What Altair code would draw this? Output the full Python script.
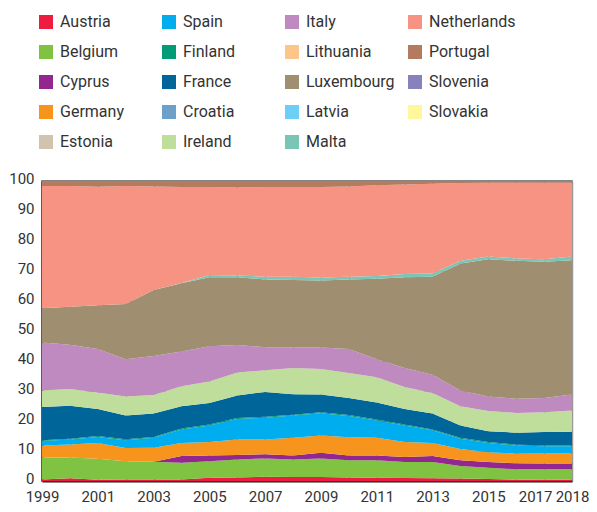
import altair as alt
import pandas as pd

years = list(range(1999, 2019))

# stacking order (bottom to top) -- also the legend order (column by column)
countries = ["Austria", "Belgium", "Cyprus", "Germany", "Estonia", "Spain", "Finland",
             "France", "Croatia", "Ireland", "Italy", "Lithuania", "Luxembourg", "Latvia",
             "Malta", "Netherlands", "Portugal", "Slovenia", "Slovakia"]

austria = [0.5, 0.9, 0.4, 0.5, 0.5, 0.5, 1.1, 1.2, 1.4, 1.3, 1.3, 1.2, 1.1, 1.0, 0.9, 0.8, 0.7, 0.4, 0.4, 0.4]
belgium = [7.3, 6.9, 7.0, 6.1, 5.9, 5.6, 5.5, 6.0, 6.1, 5.9, 6.2, 5.7, 5.8, 5.3, 5.4, 4.2, 3.7, 3.5, 3.5, 3.5]
cyprus = [0, 0, 0, 0, 0, 2.2, 1.9, 1.5, 1.4, 1.3, 1.9, 1.6, 1.6, 1.7, 2.0, 1.9, 1.9, 2.0, 1.9, 1.9]
germany = [4.0, 4.4, 5.3, 4.4, 4.7, 4.4, 4.5, 5.1, 4.9, 5.9, 5.8, 6.1, 5.9, 5.0, 4.4, 3.8, 3.3, 3.2, 3.4, 3.4]
estonia = [0, 0, 0, 0, 0, 0, 0, 0, 0, 0, 0, 0, 0, 0, 0, 0, 0, 0, 0, 0]
spain = [1.5, 1.6, 2.0, 2.6, 3.3, 4.5, 5.5, 6.9, 7.3, 7.4, 7.4, 7.1, 5.8, 5.5, 4.2, 3.4, 3.1, 2.7, 2.4, 2.4]
finland = [0.3, 0.3, 0.3, 0.3, 0.3, 0.3, 0.3, 0.3, 0.3, 0.3, 0.3, 0.3, 0.3, 0.3, 0.3, 0.3, 0.3, 0.3, 0.3, 0.3]
france = [11.1, 11.0, 9.0, 7.9, 7.8, 7.4, 7.2, 7.5, 8.3, 6.8, 5.9, 5.7, 5.7, 5.2, 5.3, 4.1, 3.6, 4.0, 4.4, 4.5]
croatia = [0, 0, 0, 0, 0, 0, 0, 0, 0, 0, 0, 0, 0, 0, 0, 0, 0, 0, 0, 0]
ireland = [5.5, 5.6, 5.5, 6.4, 6.2, 6.7, 7.2, 7.7, 7.2, 8.8, 8.5, 8.3, 8.4, 7.3, 6.8, 6.4, 6.7, 6.6, 6.6, 7.1]
italy = [16.0, 14.7, 14.5, 12.4, 13.0, 11.6, 11.7, 9.1, 7.7, 6.9, 7.2, 8.0, 6.0, 6.4, 6.1, 5.3, 4.9, 4.7, 4.8, 5.3]
lithuania = [0, 0, 0, 0, 0, 0, 0, 0, 0, 0, 0, 0, 0, 0, 0, 0, 0, 0, 0, 0]
luxembourg = [11.4, 12.7, 14.6, 18.4, 22.0, 22.7, 23.0, 22.6, 22.6, 22.4, 22.3, 23.2, 26.8, 30.2, 32.7, 42.3, 45.7, 46.0, 45.4, 44.8]
latvia = [0, 0, 0, 0, 0, 0, 0, 0, 0, 0, 0, 0, 0, 0, 0, 0, 0, 0, 0, 0]
malta = [0, 0, 0, 0, 0, 0.1, 0.8, 0.6, 0.9, 1.1, 1.0, 0.9, 0.9, 1.1, 1.1, 0.9, 0.9, 0.8, 0.8, 1.2]
netherlands = [40.7, 40.2, 39.5, 39.3, 34.5, 32.0, 29.3, 29.3, 29.9, 29.9, 30.2, 30.1, 30.3, 29.8, 29.9, 25.9, 24.6, 25.2, 25.5, 24.6]
portugal = [1.7, 1.7, 1.9, 1.7, 1.8, 2.0, 2.0, 2.2, 2.0, 2.0, 2.0, 1.8, 1.4, 1.2, 0.9, 0.7, 0.6, 0.6, 0.6, 0.6]
slovenia = [0, 0, 0, 0, 0, 0, 0, 0, 0, 0, 0, 0, 0, 0, 0, 0, 0, 0, 0, 0]
slovakia = [0, 0, 0, 0, 0, 0, 0, 0, 0, 0, 0, 0, 0, 0, 0, 0, 0, 0, 0, 0]

series = [austria, belgium, cyprus, germany, estonia, spain, finland, france, croatia,
          ireland, italy, lithuania, luxembourg, latvia, malta, netherlands, portugal,
          slovenia, slovakia]

colors = ["#ee1c3f", "#80c241", "#92278f", "#f7941d", "#d1c4ae", "#00aeef", "#009b77",
          "#00669a", "#6ca0c8", "#bfdd9b", "#be8abf", "#fcc68b", "#a08e70", "#6dcff6",
          "#7ac6b6", "#f69383", "#b57b5e", "#8781bd", "#fff79a"]

rows = []
for i, (c, vals) in enumerate(zip(countries, series)):
    for y, v in zip(years, vals):
        rows.append({"year": y, "country": c, "value": v, "order": i})
df = pd.DataFrame(rows)

FONT = "Roboto"

chart = alt.Chart(df).mark_area(interpolate="linear").encode(
    x=alt.X("year:Q",
            scale=alt.Scale(domain=[1999, 2018], nice=False, zero=False),
            axis=alt.Axis(values=years, format="d", title=None, ticks=False,
                          labelExpr="(datum.value % 2 == 1 || datum.value == 2018) ? datum.label : ''",
                          labelOverlap=False, labelFlush=False, labelBound=False,
                          labelPadding=8,
                          labelOffset={"condition": {"test": "datum.value == 2017", "value": -9},
                                       "value": 0})),
    y=alt.Y("value:Q", stack="zero",
            scale=alt.Scale(domain=[0, 100], nice=False),
            axis=alt.Axis(values=list(range(0, 101, 10)), title=None, ticks=False,
                          labelPadding=8, labelOffset=-3)),
    color=alt.Color("country:N",
                    scale=alt.Scale(domain=countries, range=colors),
                    legend=alt.Legend(orient="none", legendX=-4, legendY=-167,
                                      columns=4, gridAlign="all", columnPadding=12,
                                      rowPadding=14, symbolType="square",
                                      symbolSize=196, symbolStrokeWidth=0,
                                      labelFont=FONT, labelFontSize=16,
                                      labelColor="#333333", labelOffset=6,
                                      labelLimit=200, title=None)),
    order=alt.Order("order:Q", sort="ascending"),
).properties(
    width=530, height=300,
    padding={"left": 0, "top": 6, "right": 0, "bottom": 0},
).configure_view(
    stroke="#555555", strokeWidth=1.5
).configure_axis(
    grid=True, gridColor="#999999", gridWidth=1.5, gridOpacity=1,
    domain=True, domainColor="#333333", domainWidth=2,
    labelFont=FONT, labelFontSize=15, labelColor="#333333",
    zindex=1,
)

chart.save("out.html", embed_options={"renderer": "svg", "actions": False})
